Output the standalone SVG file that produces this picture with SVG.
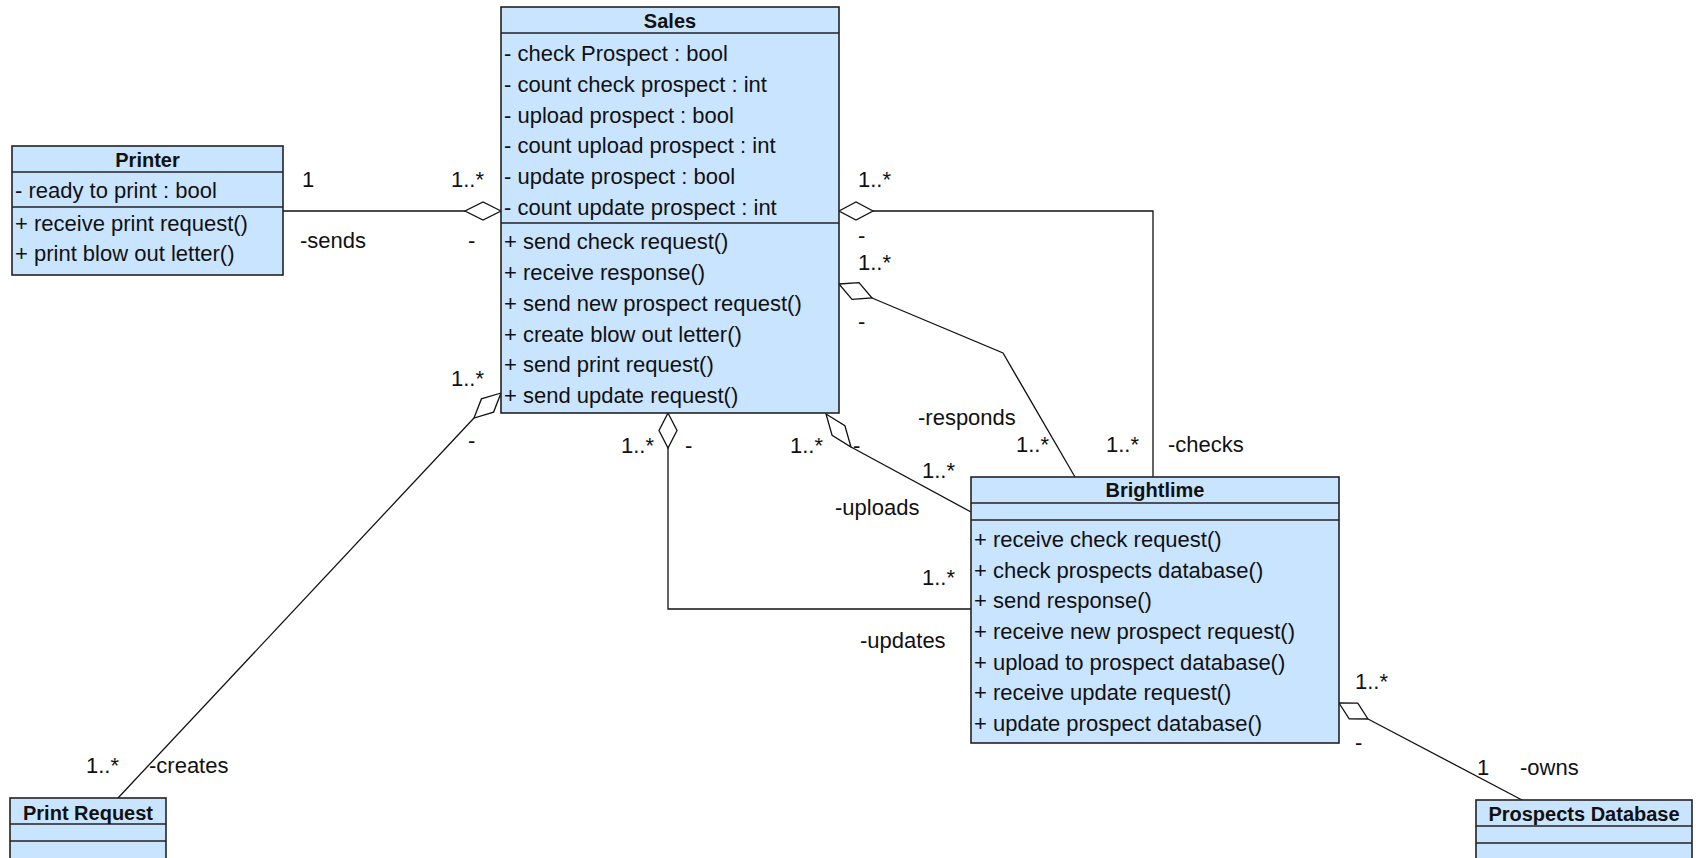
<svg xmlns="http://www.w3.org/2000/svg" width="1696" height="858" viewBox="0 0 1696 858">
<style>
.box{fill:#C9E4FF;stroke:#222;stroke-width:1.6}
.sep{stroke:#222;stroke-width:1.6}
.t{font-family:"Liberation Sans",Arial,sans-serif;font-size:22px;fill:#111}
.h{font-family:"Liberation Sans",Arial,sans-serif;font-size:20px;font-weight:bold;fill:#111;text-anchor:middle}
.c{fill:none;stroke:#111;stroke-width:1.3}
.d{fill:#fff;stroke:#111;stroke-width:1.3}
</style>
<rect width="1696" height="858" fill="#fff"/>
<g id="connectors">
<polyline class="c" points="283,211 465,211"/>
<polygon class="d" points="501,211 483,202 465,211 483,220"/>
<polyline class="c" points="474,418 118,798"/>
<polygon class="d" points="501,393 481.4,398.9 474,418 493.6,412.1"/>
<polyline class="c" points="873,211 1153,211 1153,477"/>
<polygon class="d" points="839,211 856,202 873,211 856,220"/>
<polyline class="c" points="872,298 1003,353 1075,477"/>
<polygon class="d" points="839,284 859,282.7 872,298 852,299.3"/>
<polyline class="c" points="851,447 971,512"/>
<polygon class="d" points="826,414 844.9,425.7 851,447 832.1,435.3"/>
<polyline class="c" points="668,448 668,609 971,609"/>
<polygon class="d" points="668,413 677,430.5 668,448 659,430.5"/>
<polyline class="c" points="1368,719 1522,800"/>
<polygon class="d" points="1339,703 1357.8,703.1 1368,719 1349.2,718.9"/>
</g>
<g id="labels">
<text class="t" x="302" y="187">1</text>
<text class="t" x="451" y="187">1..*</text>
<text class="t" x="300" y="248">-sends</text>
<text class="t" x="468" y="248">-</text>
<text class="t" x="451" y="386">1..*</text>
<text class="t" x="468" y="448">-</text>
<text class="t" x="86" y="773">1..*</text>
<text class="t" x="149" y="773">-creates</text>
<text class="t" x="858" y="187">1..*</text>
<text class="t" x="858" y="243">-</text>
<text class="t" x="858" y="270">1..*</text>
<text class="t" x="858" y="329">-</text>
<text class="t" x="918" y="425">-responds</text>
<text class="t" x="1016" y="452">1..*</text>
<text class="t" x="1106" y="452">1..*</text>
<text class="t" x="1168" y="452">-checks</text>
<text class="t" x="621" y="453">1..*</text>
<text class="t" x="685" y="453">-</text>
<text class="t" x="790" y="453">1..*</text>
<text class="t" x="853" y="453">-</text>
<text class="t" x="922" y="478">1..*</text>
<text class="t" x="835" y="515">-uploads</text>
<text class="t" x="922" y="585">1..*</text>
<text class="t" x="860" y="648">-updates</text>
<text class="t" x="1355" y="689">1..*</text>
<text class="t" x="1355" y="750">-</text>
<text class="t" x="1477" y="775">1</text>
<text class="t" x="1520" y="775">-owns</text>
</g>
<g id="printer">
<rect class="box" x="12" y="146" width="271" height="129"/>
<line class="sep" x1="12" y1="172" x2="283" y2="172"/>
<line class="sep" x1="12" y1="207" x2="283" y2="207"/>
<text class="h" x="147.5" y="167">Printer</text>
<text class="t" x="15" y="198">- ready to print : bool</text>
<text class="t" x="15" y="231">+ receive print request()</text>
<text class="t" x="15" y="261">+ print blow out letter()</text>
</g>
<g id="sales">
<rect class="box" x="501" y="7" width="338" height="406"/>
<line class="sep" x1="501" y1="33" x2="839" y2="33"/>
<line class="sep" x1="501" y1="223" x2="839" y2="223"/>
<text class="h" x="670" y="28">Sales</text>
<text class="t" x="504" y="61">- check Prospect : bool</text>
<text class="t" x="504" y="92">- count check prospect : int</text>
<text class="t" x="504" y="123">- upload prospect : bool</text>
<text class="t" x="504" y="153">- count upload prospect : int</text>
<text class="t" x="504" y="184">- update prospect : bool</text>
<text class="t" x="504" y="215">- count update prospect : int</text>
<text class="t" x="504" y="249">+ send check request()</text>
<text class="t" x="504" y="280">+ receive response()</text>
<text class="t" x="504" y="311">+ send new prospect request()</text>
<text class="t" x="504" y="342">+ create blow out letter()</text>
<text class="t" x="504" y="372">+ send print request()</text>
<text class="t" x="504" y="403">+ send update request()</text>
</g>
<g id="brightlime">
<rect class="box" x="971" y="477" width="368" height="266"/>
<line class="sep" x1="971" y1="503" x2="1339" y2="503"/>
<line class="sep" x1="971" y1="520" x2="1339" y2="520"/>
<text class="h" x="1155" y="497">Brightlime</text>
<text class="t" x="974" y="547">+ receive check request()</text>
<text class="t" x="974" y="578">+ check prospects database()</text>
<text class="t" x="974" y="608">+ send response()</text>
<text class="t" x="974" y="639">+ receive new prospect request()</text>
<text class="t" x="974" y="670">+ upload to prospect database()</text>
<text class="t" x="974" y="700">+ receive update request()</text>
<text class="t" x="974" y="731">+ update prospect database()</text>
</g>
<g id="print-request">
<rect class="box" x="10" y="798" width="156" height="80"/>
<line class="sep" x1="10" y1="824" x2="166" y2="824"/>
<line class="sep" x1="10" y1="841" x2="166" y2="841"/>
<text class="h" x="88" y="820">Print Request</text>
</g>
<g id="prospects-database">
<rect class="box" x="1476" y="800" width="216" height="80"/>
<line class="sep" x1="1476" y1="826" x2="1692" y2="826"/>
<line class="sep" x1="1476" y1="843" x2="1692" y2="843"/>
<text class="h" x="1584" y="821">Prospects Database</text>
</g>
</svg>
